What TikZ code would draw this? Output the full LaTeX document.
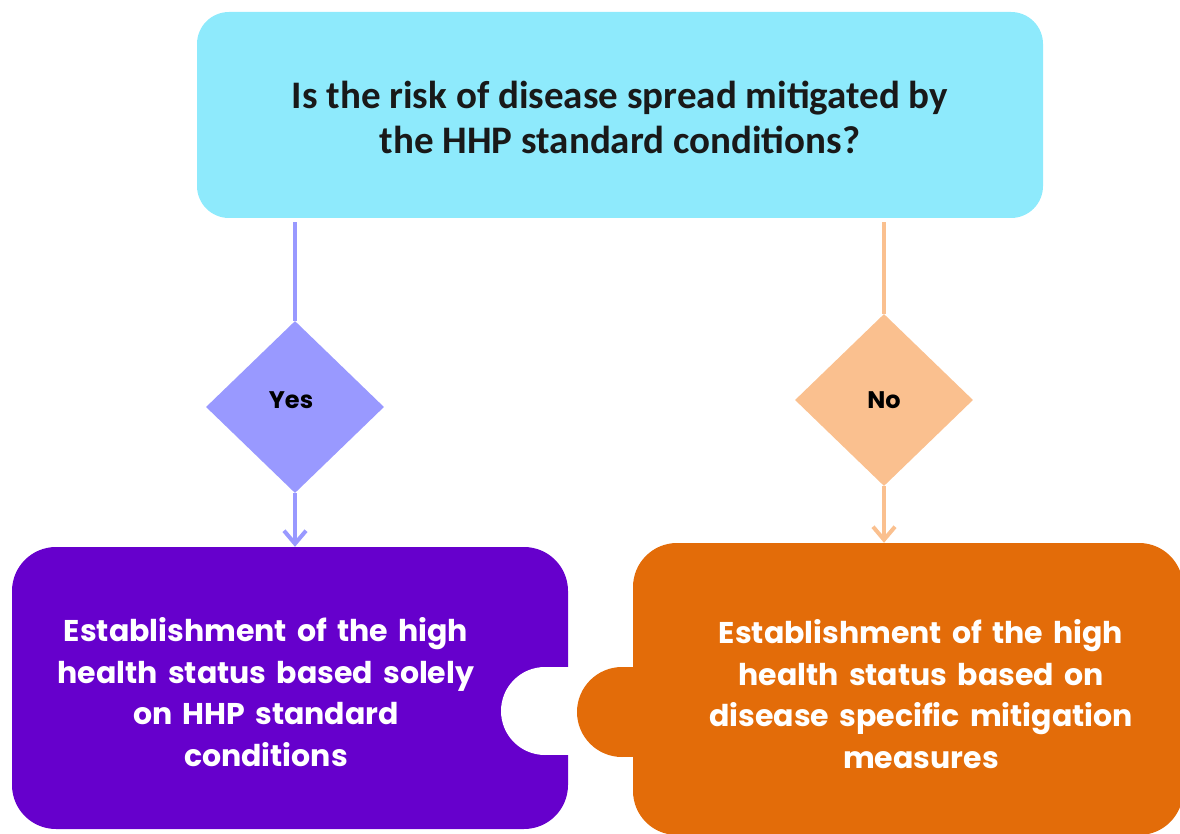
\documentclass[tikz,border=0pt]{standalone}
\usepackage{fontspec}
\setmainfont{Carlito}
\newfontfamily\popfont{Poppins}[WordSpace=1.6]
\newfontfamily\popfontb{Poppins ExtraBold}
\usetikzlibrary{shapes.geometric,arrows.meta}
\definecolor{topc}{HTML}{8EEAFC}
\definecolor{yesc}{HTML}{9999FF}
\definecolor{noc}{HTML}{FAC08F}
\definecolor{purp}{HTML}{6600CC}
\definecolor{orng}{HTML}{E36C09}
\tikzset{
  topbox/.style={fill=topc, rounded corners=32pt, inner sep=0pt},
  decision/.style={diamond, inner sep=0pt, minimum width=178pt, minimum height=172pt, aspect=1.03},
  dlabel/.style={font=\popfont\bfseries\fontsize{24}{28}\selectfont, inner sep=0pt},
  bigbox/.style={rounded corners=44pt, inner sep=0pt},
  btext/.style={align=center, text=white, font=\popfont\bfseries\fontsize{30}{41.5}\selectfont},
  yesline/.style={draw=yesc, line width=4pt},
  noline/.style={draw=noc, line width=4pt},
  tip/.style={-{Straight Barb[length=13pt,width=22pt]}}
}
\begin{document}
\begin{tikzpicture}[x=1pt,y=-1pt]
\useasboundingbox (0,0) rectangle (1180,834);
\node[topbox, minimum width=846pt, minimum height=206pt] (q) at (620,115) {};
\node[align=center, text=black!90, font=\bfseries\fontsize{39}{45}\selectfont] (qt) at (620,117)
  {Is the risk of disease spread mitigated by\\the HHP standard conditions?};
\node[decision, fill=yesc] (yes) at (295,407) {};
\node[dlabel] (yest) at (291,400) {Yes};
\node[decision, fill=noc] (no) at (884,400) {};
\node[dlabel] (not) at (884,400) {No};
\node[bigbox, fill=purp, minimum width=556pt, minimum height=282pt] (pb) at (290,688) {};
\node[bigbox, fill=orng, minimum width=550pt, minimum height=292pt] (ob) at (908,689) {};
% puzzle notch and knob
\fill[white] (545,711) circle (44);
\fill[white] (545,667) rectangle (572,755);
\fill[orng] (622,712) circle (45);
\fill[orng] (622,667) rectangle (640,757);
\node[btext] (pt) at (266,692) {Establishment of the high\\health status based solely\\on HHP standard\\conditions};
\node[btext] (ot) at (921,694) {Establishment of the high\\health status based on\\disease specific mitigation\\measures};
\draw[yesline] ([yshift=-4pt]q.south -| yes.north) -- (yes.north);
\draw[yesline, tip] (yes.south) -- (yes.south |- pb.north);
\draw[noline] ([yshift=-4pt]q.south -| no.north) -- (no.north);
\draw[noline, tip] (no.south) -- (no.south |- ob.north);
\end{tikzpicture}
\end{document}
